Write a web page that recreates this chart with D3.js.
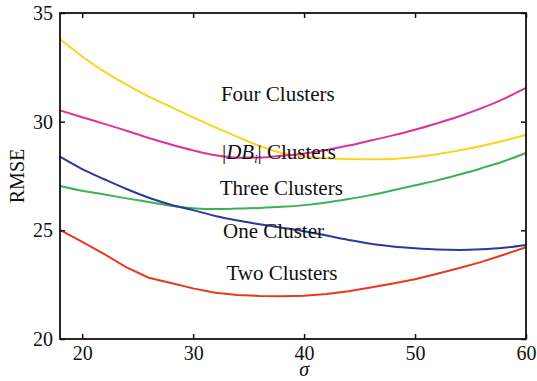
<!DOCTYPE html>
<html>
<head>
<meta charset="utf-8">
<script src="https://cdn.jsdelivr.net/npm/d3@7"></script>
<style>
  html, body { margin: 0; padding: 0; background: #fff; }
  svg { display: block; }
  text { font-family: "Liberation Serif", "Times New Roman", serif; fill: #111; }
</style>
</head>
<body>
<svg id="chart" width="537" height="381"></svg>
<script>
// sigma sample points
const sigma = [18, 20, 22, 24, 26, 28, 30, 32, 34, 36, 38, 40, 42, 44, 46, 48, 50, 52, 54, 56, 58, 60];

// RMSE for each clustering variant
const fourClusters = [33.8, 33.0, 32.3, 31.7, 31.15, 30.68, 30.2, 29.74, 29.3, 28.88, 28.56, 28.4, 28.32, 28.28, 28.27, 28.28, 28.37, 28.5, 28.68, 28.88, 29.12, 29.4];
const dbClusters   = [30.52, 30.2, 29.9, 29.58, 29.25, 28.95, 28.68, 28.45, 28.34, 28.35, 28.43, 28.54, 28.7, 28.9, 29.13, 29.37, 29.63, 29.93, 30.25, 30.62, 31.05, 31.55];
const threeClusters = [27.04, 26.82, 26.65, 26.47, 26.3, 26.13, 26.02, 25.98, 26.0, 26.03, 26.08, 26.16, 26.28, 26.44, 26.62, 26.84, 27.07, 27.3, 27.57, 27.86, 28.18, 28.56];
const oneCluster   = [28.39, 27.82, 27.35, 26.9, 26.5, 26.18, 25.93, 25.66, 25.45, 25.28, 25.12, 24.96, 24.76, 24.56, 24.38, 24.26, 24.18, 24.12, 24.1, 24.13, 24.2, 24.33];
const twoClusters  = [25.02, 24.47, 23.9, 23.3, 22.82, 22.58, 22.33, 22.13, 22.03, 21.98, 21.97, 21.99, 22.07, 22.2, 22.37, 22.55, 22.75, 23.0, 23.27, 23.55, 23.88, 24.22];

const xTicks = [20, 30, 40, 50, 60];
const yTicks = [20, 25, 30, 35];

const margin = { left: 60, right: 11, top: 13, bottom: 42 };
const W = 537, H = 381;
const svg = d3.select("#chart");

const x = d3.scaleLinear().domain([18, 60]).range([margin.left, W - margin.right]);
const y = d3.scaleLinear().domain([20, 35]).range([H - margin.bottom, margin.top]);

const series = [
  { name: "four",  values: fourClusters,  color: "#FFD21F", curve: d3.curveMonotoneX },
  { name: "db",    values: dbClusters,    color: "#E0319A", curve: d3.curveMonotoneX },
  { name: "three", values: threeClusters, color: "#3DB154", curve: d3.curveMonotoneX },
  { name: "one",   values: oneCluster,    color: "#2A3A9C", curve: d3.curveMonotoneX },
  { name: "two",   values: twoClusters,   color: "#E8391C", curve: d3.curveLinear }
];

const plot = svg.append("g");
series.forEach(s => {
  const line = d3.line().x((d, i) => x(sigma[i])).y(d => y(d)).curve(s.curve);
  plot.append("path")
    .datum(s.values)
    .attr("fill", "none")
    .attr("stroke", s.color)
    .attr("stroke-width", 2)
    .attr("d", line);
});

// axes with inward ticks
const serif = "'Liberation Serif', 'Times New Roman', serif";
const axisBottomG = svg.append("g")
  .attr("transform", `translate(0,${H - margin.bottom})`)
  .call(d3.axisBottom(x).tickValues(xTicks).tickSizeInner(-5).tickSizeOuter(0).tickPadding(7));
const axisLeftG = svg.append("g")
  .attr("transform", `translate(${margin.left},0)`)
  .call(d3.axisLeft(y).tickValues(yTicks).tickSizeInner(-5).tickSizeOuter(0).tickPadding(7));
const axisTopG = svg.append("g")
  .attr("transform", `translate(0,${margin.top})`)
  .call(d3.axisTop(x).tickValues(xTicks).tickSizeInner(-5).tickSizeOuter(0).tickFormat(""));
const axisRightG = svg.append("g")
  .attr("transform", `translate(${W - margin.right},0)`)
  .call(d3.axisRight(y).tickValues(yTicks).tickSizeInner(-5).tickSizeOuter(0).tickFormat(""));

[axisBottomG, axisLeftG, axisTopG, axisRightG].forEach(g => {
  g.attr("font-family", serif).attr("font-size", 20);
  g.select(".domain").remove();
  g.selectAll(".tick line").attr("stroke", "#111").attr("stroke-width", 1.5);
  g.selectAll(".tick text").attr("fill", "#111");
});

// frame
svg.append("rect")
  .attr("x", margin.left).attr("y", margin.top)
  .attr("width", W - margin.left - margin.right)
  .attr("height", H - margin.top - margin.bottom)
  .attr("fill", "none").attr("stroke", "#111").attr("stroke-width", 1.8);

// axis titles
svg.append("text")
  .attr("transform", `translate(24,${y(27.5)}) rotate(-90)`)
  .attr("text-anchor", "middle")
  .style("font-size", "20px")
  .text("RMSE");
svg.append("text")
  .attr("x", x(40)).attr("y", 376)
  .attr("text-anchor", "middle")
  .style("font-size", "20px")
  .style("font-style", "italic")
  .text("σ");

// series labels
const labelSize = "21px";
function label(txt, sx, vy) {
  return svg.append("text")
    .attr("x", x(sx)).attr("y", y(vy))
    .style("font-size", labelSize)
    .text(txt);
}
label("Four Clusters", 32.5, 30.96);
label("Three Clusters", 32.4, 26.63);
label("One Cluster", 32.7, 24.63);
label("Two Clusters", 33.0, 22.72);

const db = svg.append("text")
  .attr("x", x(32.6)).attr("y", y(28.3))
  .style("font-size", labelSize);
db.append("tspan").text("|");
db.append("tspan").style("font-style", "italic").text("DB");
db.append("tspan").style("font-style", "italic").style("font-size", "12px").attr("dy", 4).text("i");
db.append("tspan").attr("dy", -4).text("|");
db.append("tspan").text(" Clusters");
</script>
</body>
</html>
